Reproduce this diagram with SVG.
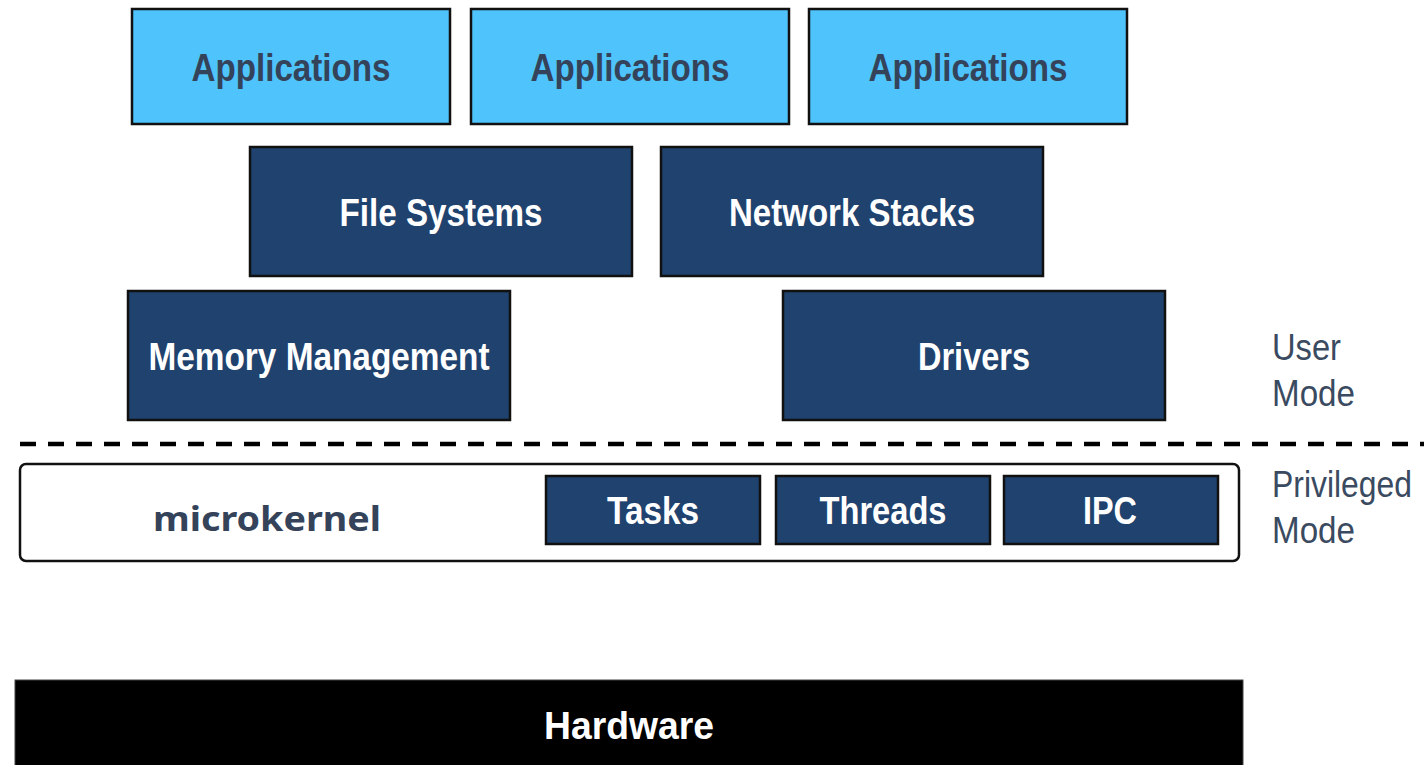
<svg xmlns="http://www.w3.org/2000/svg" width="1424" height="765" viewBox="0 0 1424 765">
<style>
.app{fill:#4fc3fc;stroke:#111;stroke-width:2.5}
.dk{fill:#1f426e;stroke:#111;stroke-width:2.5}
.t{font-family:"Liberation Sans",Arial,sans-serif;font-weight:bold;font-size:38px;text-anchor:middle}
.tl{fill:#34435a}
.tw{fill:#fff}
.side{font-family:"Liberation Sans",Arial,sans-serif;font-size:37px;fill:#3a4a60}
</style>
<rect width="1424" height="765" fill="#fff"/>
<g id="app1"><rect class="app" x="132" y="9" width="318" height="115"/><text class="t tl" x="291" y="81" textLength="199" lengthAdjust="spacingAndGlyphs">Applications</text></g>
<g id="app2"><rect class="app" x="471" y="9" width="318" height="115"/><text class="t tl" x="630" y="81" textLength="199" lengthAdjust="spacingAndGlyphs">Applications</text></g>
<g id="app3"><rect class="app" x="809" y="9" width="318" height="115"/><text class="t tl" x="968" y="81" textLength="199" lengthAdjust="spacingAndGlyphs">Applications</text></g>
<g id="fs"><rect class="dk" x="250" y="147" width="382" height="129"/><text class="t tw" x="441" y="226" textLength="203" lengthAdjust="spacingAndGlyphs">File Systems</text></g>
<g id="net"><rect class="dk" x="661" y="147" width="382" height="129"/><text class="t tw" x="852" y="226" textLength="246" lengthAdjust="spacingAndGlyphs">Network Stacks</text></g>
<g id="mem"><rect class="dk" x="128" y="291" width="382" height="129"/><text class="t tw" x="319" y="370" textLength="341" lengthAdjust="spacingAndGlyphs">Memory Management</text></g>
<g id="drv"><rect class="dk" x="783" y="291" width="382" height="129"/><text class="t tw" x="974" y="370" textLength="112" lengthAdjust="spacingAndGlyphs">Drivers</text></g>
<g id="connectors"><line x1="20" y1="444" x2="1424" y2="444" stroke="#000" stroke-width="4.5" stroke-dasharray="16 12"/></g>
<g id="microkernel"><rect x="20" y="464" width="1219" height="97" rx="6" fill="#fff" stroke="#111" stroke-width="2.5"/><text x="267" y="531" font-family="'Noto Sans',sans-serif" font-weight="bold" font-size="34" fill="#34435a" text-anchor="middle" textLength="228" lengthAdjust="spacingAndGlyphs">microkernel</text></g>
<g id="tasks"><rect class="dk" x="546" y="476" width="214" height="68"/><text class="t tw" x="653" y="524" textLength="92" lengthAdjust="spacingAndGlyphs">Tasks</text></g>
<g id="threads"><rect class="dk" x="776" y="476" width="214" height="68"/><text class="t tw" x="883" y="524" textLength="127" lengthAdjust="spacingAndGlyphs">Threads</text></g>
<g id="ipc"><rect class="dk" x="1004" y="476" width="214" height="68"/><text class="t tw" x="1110" y="524" textLength="54" lengthAdjust="spacingAndGlyphs">IPC</text></g>
<g id="hardware"><rect x="15" y="680" width="1228" height="90" fill="#000" stroke="#444" stroke-width="1"/><text class="t tw" x="629" y="739" textLength="170" lengthAdjust="spacingAndGlyphs">Hardware</text></g>
<g id="labels">
<text class="side" x="1272" y="360" textLength="69" lengthAdjust="spacingAndGlyphs">User</text>
<text class="side" x="1272" y="406" textLength="83" lengthAdjust="spacingAndGlyphs">Mode</text>
<text class="side" x="1272" y="497" textLength="140" lengthAdjust="spacingAndGlyphs">Privileged</text>
<text class="side" x="1272" y="543" textLength="83" lengthAdjust="spacingAndGlyphs">Mode</text>
</g>
</svg>
